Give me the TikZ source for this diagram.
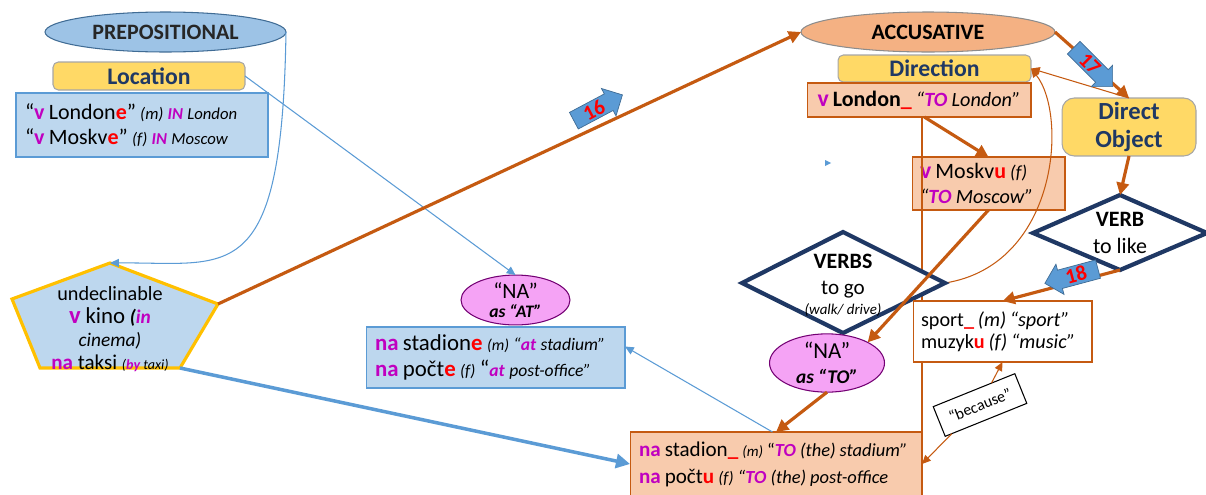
\documentclass[tikz,border=0pt]{standalone}
\usepackage{fontspec}
\setmainfont{Carlito}
\usetikzlibrary{arrows.meta,shapes.geometric,shapes.arrows,calc}
\definecolor{pur}{HTML}{C000C0}
\definecolor{rd}{HTML}{FF0000}
\definecolor{navy}{HTML}{1F3864}
\definecolor{org}{HTML}{C55A11}
\definecolor{bluef}{HTML}{BDD7EE}
\definecolor{bluel}{HTML}{5B9BD5}
\definecolor{yel}{HTML}{FFD966}
\definecolor{peach}{HTML}{F8CBAD}
\definecolor{accf}{HTML}{F4B183}
\definecolor{prepf}{HTML}{9DC3E6}
\definecolor{pinkf}{HTML}{F5A3F5}
\definecolor{gold}{HTML}{FFC000}
\newcommand{\Pv}[1]{\textcolor{pur}{\textbf{#1}}}
\newcommand{\Rd}[1]{\textcolor{rd}{\textbf{#1}}}
\newcommand{\Pit}[1]{\textcolor{pur}{\textbf{\textit{#1}}}}
\newcommand{\Sz}[2]{{\fontsize{#1}{\the\baselineskip}\selectfont #2}}
\newcommand{\Fs}[2]{\fontsize{#1}{#2}\selectfont}
\tikzset{
  every node/.style={inner sep=0pt, outer sep=0pt},
  ell/.style={ellipse, draw, line width=0.6pt},
  boxs/.style={rectangle, draw, line width=0.6pt},
  ybox/.style={rectangle, rounded corners=3pt, draw=black!35, fill=yel, line width=0.6pt, text=navy},
  pbox/.style={rectangle, draw=org, fill=peach, line width=0.6pt},
  bbox/.style={rectangle, draw=bluel, fill=bluef, line width=0.6pt},
  thinB/.style={draw=bluel, line width=0.6pt, -{Triangle[length=5pt,width=4.5pt]}},
  thickB/.style={draw=bluel, line width=2pt, -{Triangle[length=8pt,width=8pt]}},
  thickO/.style={draw=org, line width=1.8pt, -{Triangle[length=7pt,width=7pt]}},
  thinO/.style={draw=org, line width=0.6pt, -{Triangle[length=5pt,width=4.5pt]}},
  orgline/.style={draw=org, line width=0.6pt},
  diam/.style={draw=navy, line width=2.4pt, fill=white, line join=miter},
  blk/.style={single arrow, draw=bluel!70!black, fill=bluel, line width=0.4pt,
    minimum height=1.1cm, minimum width=17pt, single arrow head extend=3.5pt,
    inner sep=1pt, font=\Fs{12}{12}\bfseries, text=rd},
  tight/.style={execute at begin node={\spaceskip=0.19em plus 0.05em}}
}
\begin{document}
\begin{tikzpicture}[x=0.02cm,y=-0.02cm]
\useasboundingbox (0,0) rectangle (1206,494);

% ---------- PREPOSITIONAL side ----------
\node[ell, fill=prepf, draw=bluel!70!black, minimum width=4.82cm, minimum height=0.8cm,
  font=\Fs{12.5}{15}\bfseries, text=black!85] (prep) at (165.5,32) {PREPOSITIONAL};
\node[ybox, minimum width=3.84cm, minimum height=0.56cm, font=\Fs{13.5}{16}\bfseries] (loc) at (149,76) {Location};
\node[bbox, tight, minimum height=1.28cm, text width=4.68cm, inner xsep=0.18cm, align=left,
  font=\Fs{12.5}{14.5}] (inbox) at (142,125)
  {\mbox{“\Pv{v} London\Rd{e}” \Sz{9.5}{\textit{(m)} \Pit{IN} \textit{London}}}\\
   \mbox{“\Pv{v} Moskv\Rd{e}” \Sz{9.5}{\textit{(f)} \Pit{IN} \textit{Moscow}}}};

% pentagon
\coordinate (pT) at (110,263);
\coordinate (pR) at (218,304);
\coordinate (pBR) at (180,368);
\coordinate (pBL) at (40,368);
\coordinate (pL) at (12,299);
\filldraw[fill=bluef, draw=gold, line width=1.8pt, line join=miter] (pT) -- (pR) -- (pBR) -- (pBL) -- (pL) -- cycle;
\node[align=center, font=\Fs{12}{13.2}] (pent) at (110,329)
  {\Sz{11.5}{undeclinable}\\
   \Pv{\Sz{14}{v}} \Sz{13}{kino} \Sz{11}{\textbf{\textit{(\textcolor{pur}{in}}}}\\
   \Sz{11}{\textit{cinema)}}\\
   \Pv{na} taksi \Sz{8}{\textit{(\Pit{by} taxi)}}};

% NA as AT
\node[ell, fill=pinkf, draw=pur!60!black, minimum width=2.18cm, minimum height=0.92cm, align=center,
  font=\Fs{12.5}{12}] (naat) at (515.5,300) {“NA”\\[-1pt]\Sz{10}{\textbf{\textit{as “AT”}}}};
\node[bbox, tight, minimum height=1.22cm, text width=4.82cm, inner xsep=0.18cm, align=left,
  font=\Fs{13}{14.5}] (atbox) at (495.5,357.5)
  {\mbox{\Pv{na} stadion\Rd{e} \Sz{9}{\textit{(m)}} \Sz{10}{\textit{“}\Pit{at} \textit{stadium”}}}\\
   \mbox{\Pv{na} počt\Rd{e} \Sz{9.5}{\textit{(f)}} “\Sz{10}{\Pit{at} \textit{post-office”}}}};

% ---------- ACCUSATIVE side ----------
\node[ell, fill=accf, draw=black!45, minimum width=5.08cm, minimum height=0.8cm,
  font=\Fs{12.5}{15}\bfseries] (acc) at (928,32) {ACCUSATIVE};
\node[ybox, minimum width=3.86cm, minimum height=0.54cm, font=\Fs{13.5}{16}\bfseries] (dir) at (934.5,68.5) {Direction};
\node[pbox, tight, minimum width=4.48cm, minimum height=0.68cm, font=\Fs{12.5}{15}] (lon) at (919,100)
  {\Pv{\Sz{13.5}{v}} \textbf{London}\Rd{\_} \Sz{11.5}{\textit{“}\Pit{TO} \textit{London”}}};
\node[ybox, rounded corners=7pt, minimum width=2.68cm, minimum height=1.16cm, align=center,
  font=\Fs{14}{16.4}\bfseries] (dobj) at (1129,127) {Direct\\Object};
\node[pbox, tight, minimum height=1.06cm, text width=2.74cm, inner xsep=0.16cm, align=left,
  font=\Fs{12.5}{14.5}] (mos) at (988.5,183.5)
  {\mbox{\Pv{\Sz{13.5}{v}} Moskv\Rd{u} \Sz{10.5}{\textit{(f)}}}\\
   \mbox{\Sz{11.5}{\textit{“}\Pit{TO} \textit{Moscow”}}}};

% VERBS diamond
\coordinate (sT) at (843,232);
\coordinate (sL) at (742,283);
\coordinate (sB) at (843,333);
\coordinate (sR) at (945,283);
% VERB diamond
\coordinate (vT) at (1120,195);
\coordinate (vL) at (1033,233);
\coordinate (vB) at (1120,270);
\coordinate (vR) at (1207,233);

% connectors that run under the boxes
\draw[orgline] (lon.south -| 922,0) -- (922,432) coordinate (vline);
\draw[thinO] (sR) .. controls (1058,265) and (1068,115) .. (dir.east);

\filldraw[diam] (sT) -- (sR) -- (sB) -- (sL) -- cycle;
\node[align=center, font=\Fs{12.5}{14}] (verbs) at (843,285)
  {\textbf{VERBS}\\[1pt]\Sz{12}{to go}\\[-3pt]\Sz{8.5}{\textit{(walk/ drive)}}};
\filldraw[diam] (vT) -- (vR) -- (vB) -- (vL) -- cycle;
\node[align=center, font=\Fs{12.5}{15}] (verb) at (1120,233) {\textbf{VERB}\\to like};

\node[ell, fill=pinkf, draw=pur!60!black, minimum width=2.3cm, minimum height=1.1cm, align=center,
  font=\Fs{13}{13}] (nato) at (827,363) {“NA”\\[1pt]\Sz{11}{\textbf{\textit{as “TO”}}}};

\node[boxs, tight, draw=org, fill=white, minimum height=1.22cm, text width=3.26cm, inner xsep=0.16cm, align=left,
  font=\Fs{11.5}{12.5}] (sport) at (1002.5,331.5)
  {\mbox{sport\Rd{\_} \textit{(m) “sport”}}\\ \mbox{muzyk\Rd{u} \textit{(f) “music”}}};

\node[pbox, tight, minimum height=1.28cm, text width=5.48cm, inner xsep=0.18cm, align=left,
  font=\Fs{12}{15.5}] (tobox) at (776,464)
  {\mbox{\Pv{na} stadion\Rd{\_} \Sz{8.5}{\textit{(m)}} \Sz{10.5}{“\Pit{TO} \textit{(the) stadium”}}}\\
   \mbox{\Pv{na} počt\Rd{u} \Sz{9.5}{\textit{(f)}} \Sz{10.5}{\textit{“}\Pit{TO} \textit{(the) post-office}}}};

\node[boxs, draw=black, fill=white, rotate=22, minimum width=1.76cm, minimum height=0.64cm,
  font=\Fs{9}{10}] (bec) at (980,405) {“because”};

% ---------- connectors ----------
\draw[thinB] (prep.east) .. controls (282,290) and (230,262) .. (pT);
\draw[thinB] (loc.east) -- (naat.north);
\draw[thickO] (pR) -- (acc.west);
\draw[thickB] (pBR) -- (tobox.west);
\draw[thinB] ([xshift=-2pt]tobox.north) -- ($(atbox.east)+(0,-11)$);
\draw[thickO] (acc.east) -- (dobj.north);
\draw[thinO] (dobj.north) -- (dir.east);
\draw[thickO] ([xshift=3pt]lon.south) -- (mos.north);
\draw[thickO] (mos.south) -- (nato.north east);
\draw[thickO] (nato.south) -- (tobox.north);
\draw[thickO] (dobj.south) -- (vT);
\draw[thickO] (vB) -- (sport.north);
\draw[thinO] (bec) -- (sport.south);
\draw[thinO] (bec) -- (tobox.east);

% block arrows
\node[blk, rotate=28] (a16) at (594,110) {16};
\node[blk, rotate=-45] (a17) at (1090,64) {17};
\node[blk, shape border rotate=180, rotate=15] (a18) at (1076,275) {18};

% small stray mark
\fill[bluel] (825,160) -- (831,163) -- (825,166) -- cycle;
\end{tikzpicture}
\end{document}
